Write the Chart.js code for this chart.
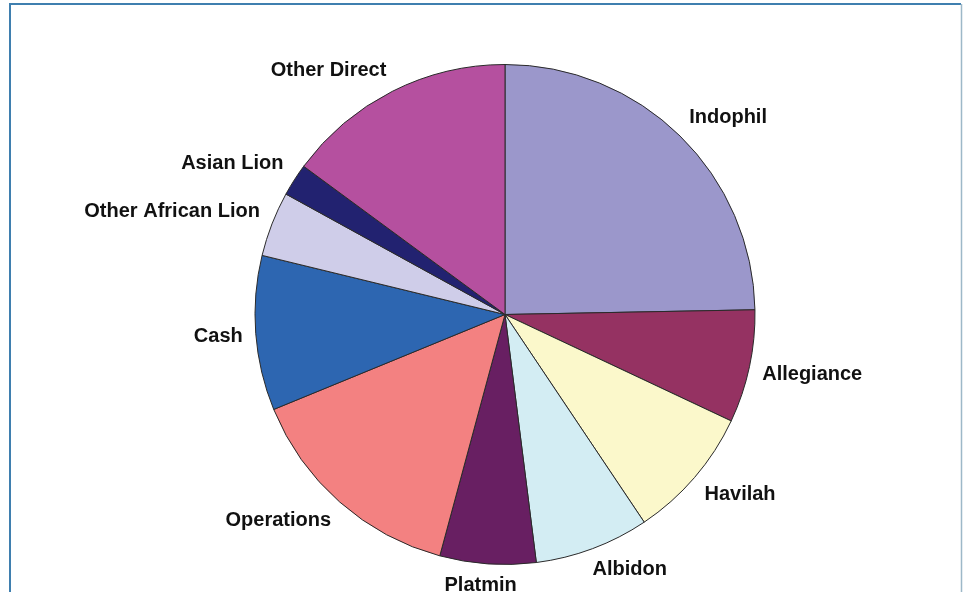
<!DOCTYPE html>
<html>
<head>
<meta charset="utf-8">
<script src="https://cdn.jsdelivr.net/npm/chart.js@4/dist/chart.umd.min.js"></script>
<style>
  html, body { margin: 0; padding: 0; background: #ffffff; }
  #wrap { position: relative; width: 963px; height: 592px; }
</style>
</head>
<body>
<div id="wrap"><canvas id="c" width="963" height="592"></canvas></div>
<script>
const categories = ["Indophil", "Allegiance", "Havilah", "Albidon", "Platmin", "Operations", "Cash", "Other African Lion", "Asian Lion", "Other Direct"];
const shares = [24.7, 7.3, 8.6, 7.4, 6.2, 14.6, 10.0, 4.2, 2.1, 14.9];
const sliceColors = ["#9B97CB", "#953262", "#FBF8CB", "#D3EDF3", "#681F62", "#F38181", "#2D66B1", "#CFCDE9", "#222270", "#B5509F"];

const frame = {
  id: 'frame',
  beforeDraw(chart) {
    const ctx = chart.ctx;
    ctx.save();
    ctx.fillStyle = '#ffffff';
    ctx.fillRect(0, 0, chart.width, chart.height);
    ctx.strokeStyle = '#3F7FAF';
    ctx.lineWidth = 2;
    ctx.beginPath();
    ctx.moveTo(10, chart.height);
    ctx.lineTo(10, 4);
    ctx.lineTo(chart.width - 2, 4);
    ctx.stroke();
    ctx.strokeStyle = '#9DB8C8';
    ctx.lineWidth = 1.5;
    ctx.beginPath();
    ctx.moveTo(chart.width - 1.5, 4);
    ctx.lineTo(chart.width - 1.5, chart.height);
    ctx.stroke();
    ctx.restore();
  }
};

const outsideLabels = {
  id: 'outsideLabels',
  afterDatasetsDraw(chart) {
    const ctx = chart.ctx;
    const meta = chart.getDatasetMeta(0);
    ctx.save();
    ctx.font = 'bold 20px "Liberation Sans", Arial, sans-serif';
    ctx.fillStyle = '#111111';
    ctx.textAlign = 'center';
    ctx.textBaseline = 'middle';
    const h = 18;
    const clamp = v => Math.max(-1, Math.min(1, v));
    meta.data.forEach((arc, i) => {
      const mid = (arc.startAngle + arc.endAngle) / 2;
      const dx = Math.cos(mid), dy = Math.sin(mid);
      const rr = arc.outerRadius + 13;
      const px = arc.x + rr * dx, py = arc.y + rr * dy;
      const w = ctx.measureText(categories[i]).width;
      const cx = px + (w / 2) * clamp(2.5 * dx);
      const cy = py + (h / 2) * clamp(2.5 * dy);
      ctx.fillText(categories[i], cx, cy);
    });
    ctx.restore();
  }
};

new Chart(document.getElementById('c'), {
  type: 'pie',
  data: {
    labels: categories,
    datasets: [{
      data: shares,
      backgroundColor: sliceColors,
      borderColor: '#2a2a2a',
      borderWidth: 1
    }]
  },
  options: {
    responsive: false,
    animation: false,
    layout: { padding: { top: 64, bottom: 27, left: 203, right: 156 } },
    plugins: {
      legend: { display: false },
      tooltip: { enabled: false }
    }
  },
  plugins: [frame, outsideLabels]
});
</script>
</body>
</html>
